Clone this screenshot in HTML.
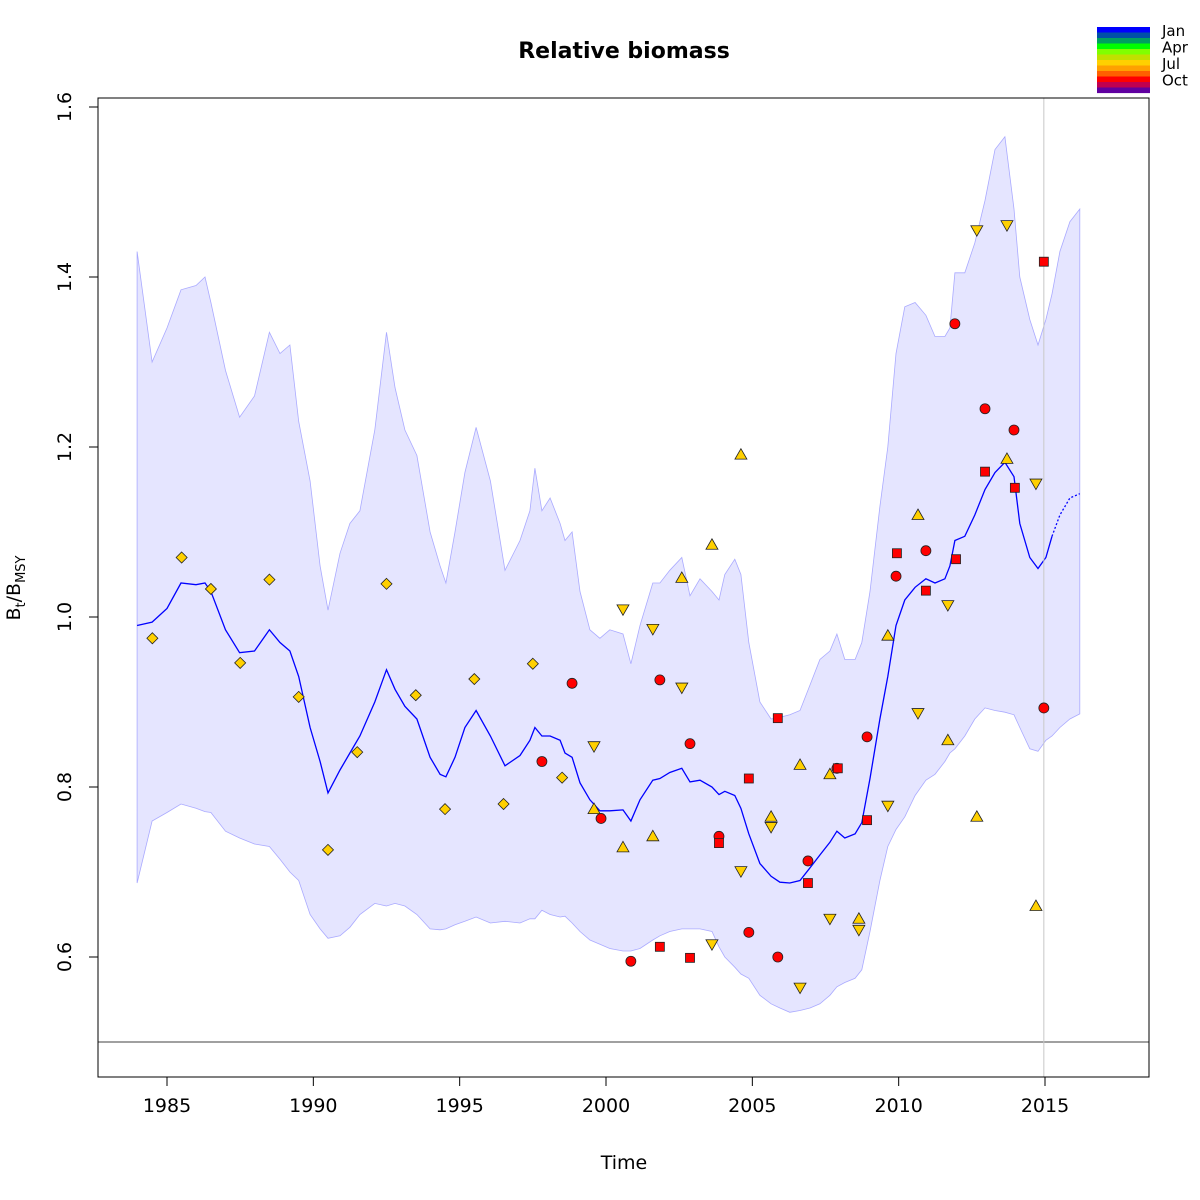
<!DOCTYPE html>
<html><head><meta charset="utf-8"><style>
body{margin:0;background:#fff}
svg{display:block;font-family:"DejaVu Sans","Liberation Sans",sans-serif}
</style></head><body>
<svg id="chart" width="1200" height="1200" viewBox="0 0 1200 1200" xmlns="http://www.w3.org/2000/svg">
<text x="624" y="58" text-anchor="middle" font-size="22" font-weight="bold">Relative biomass</text>
<text x="624" y="1169" text-anchor="middle" font-size="19">Time</text>
<text transform="translate(20,588) rotate(-90)" text-anchor="middle" font-size="19">B<tspan font-size="13" dy="5">t</tspan><tspan dy="-5">/B</tspan><tspan font-size="13" dy="5">MSY</tspan></text>
<g id="legend"></g>
<g id="band"></g><g id="lines"></g><g id="pts"></g><g id="axes"></g>
</svg>
<script>
const times=[1983.98,1984.49,1985.0,1985.48,1985.99,1986.3,1986.5,1987.0,1987.48,1987.99,1988.5,1988.86,1989.2,1989.5,1989.89,1990.23,1990.5,1990.91,1991.25,1991.59,1992.1,1992.5,1992.79,1993.13,1993.54,1993.99,1994.33,1994.53,1994.84,1995.18,1995.56,1996.05,1996.55,1997.06,1997.4,1997.57,1997.81,1998.09,1998.43,1998.6,1998.84,1999.11,1999.45,1999.79,2000.13,2000.58,2000.85,2001.16,2001.6,2001.84,2002.18,2002.59,2002.87,2003.21,2003.62,2003.86,2004.06,2004.4,2004.61,2004.88,2005.26,2005.64,2005.94,2006.28,2006.63,2006.97,2007.31,2007.65,2007.89,2008.16,2008.51,2008.74,2009.02,2009.36,2009.63,2009.91,2010.21,2010.56,2010.93,2011.24,2011.58,2011.75,2011.92,2012.26,2012.6,2012.95,2013.29,2013.63,2013.94,2014.14,2014.48,2014.76,2015.03,2015.24,2015.51,2015.85,2016.19];
const median=[0.99,0.994,1.01,1.04,1.038,1.04,1.03,0.985,0.958,0.96,0.985,0.97,0.96,0.93,0.87,0.83,0.793,0.82,0.84,0.86,0.9,0.938,0.915,0.895,0.88,0.835,0.815,0.812,0.835,0.87,0.89,0.86,0.825,0.837,0.855,0.87,0.86,0.86,0.855,0.84,0.835,0.805,0.785,0.772,0.772,0.773,0.76,0.785,0.808,0.81,0.817,0.822,0.806,0.808,0.8,0.791,0.795,0.79,0.775,0.745,0.71,0.695,0.688,0.687,0.69,0.705,0.72,0.735,0.748,0.74,0.745,0.758,0.81,0.88,0.93,0.99,1.02,1.035,1.045,1.04,1.045,1.06,1.09,1.095,1.12,1.15,1.17,1.182,1.165,1.11,1.07,1.057,1.07,1.095,1.12,1.14,1.145];
const upper=[1.43,1.3,1.34,1.385,1.39,1.4,1.37,1.29,1.235,1.26,1.335,1.31,1.32,1.23,1.16,1.06,1.008,1.075,1.11,1.125,1.22,1.335,1.27,1.22,1.19,1.1,1.06,1.04,1.1,1.17,1.223,1.16,1.055,1.09,1.125,1.175,1.125,1.14,1.11,1.09,1.1,1.03,0.985,0.975,0.985,0.98,0.945,0.99,1.04,1.04,1.055,1.07,1.025,1.045,1.03,1.02,1.05,1.068,1.05,0.97,0.9,0.88,0.882,0.885,0.89,0.92,0.95,0.96,0.98,0.95,0.95,0.97,1.03,1.13,1.2,1.31,1.365,1.37,1.355,1.33,1.33,1.34,1.405,1.405,1.44,1.49,1.55,1.565,1.48,1.4,1.35,1.32,1.35,1.38,1.43,1.465,1.48];
const lower=[0.687,0.76,0.77,0.78,0.775,0.771,0.77,0.748,0.74,0.733,0.73,0.715,0.7,0.69,0.65,0.633,0.622,0.625,0.635,0.65,0.663,0.66,0.663,0.66,0.65,0.633,0.632,0.633,0.638,0.642,0.647,0.64,0.642,0.64,0.645,0.645,0.655,0.65,0.647,0.648,0.64,0.63,0.62,0.615,0.61,0.607,0.607,0.61,0.62,0.625,0.63,0.633,0.633,0.633,0.63,0.612,0.6,0.588,0.58,0.575,0.555,0.545,0.54,0.535,0.537,0.54,0.545,0.555,0.565,0.57,0.575,0.585,0.63,0.69,0.73,0.75,0.765,0.79,0.808,0.815,0.83,0.84,0.845,0.86,0.88,0.893,0.89,0.888,0.885,0.87,0.845,0.842,0.855,0.86,0.87,0.88,0.886];
const lastObsTime=2015.24;
const diamondT=[1984.5,1985.5,1986.5,1987.5,1988.5,1989.5,1990.5,1991.5,1992.5,1993.5,1994.5,1995.5,1996.5,1997.5,1998.5];
const diamondV=[0.975,1.07,1.033,0.946,1.044,0.906,0.726,0.841,1.039,0.908,0.774,0.927,0.78,0.945,0.811];
const circleT=[1997.81,1998.84,1999.83,2000.85,2001.84,2002.87,2003.86,2004.88,2005.87,2006.9,2007.89,2008.92,2009.91,2010.93,2011.92,2012.95,2013.94,2014.96];
const circleV=[0.83,0.922,0.763,0.595,0.926,0.851,0.742,0.629,0.6,0.713,0.822,0.859,1.048,1.078,1.345,1.245,1.22,0.893];
const squareT=[2001.84,2002.87,2003.86,2004.88,2005.87,2006.9,2007.92,2008.92,2009.94,2010.93,2011.96,2012.95,2013.97,2014.96];
const squareV=[0.612,0.599,0.734,0.81,0.881,0.687,0.822,0.761,1.075,1.031,1.068,1.171,1.152,1.418];
const triT=[1999.59,2000.58,2001.6,2002.59,2003.62,2004.61,2005.64,2006.63,2007.65,2008.64,2009.63,2010.66,2011.68,2012.67,2013.7,2014.69];
const triUpV=[0.774,0.729,0.742,1.046,1.085,1.191,0.765,0.826,0.815,0.645,0.978,1.12,0.855,0.765,1.186,0.66];
const triDownV=[0.848,1.009,0.986,0.917,0.615,0.701,0.753,0.564,0.645,0.632,0.778,0.887,1.014,1.455,1.461,1.157];
const xTicks=[1985,1990,1995,2000,2005,2010,2015];
const yTicks=[0.6,0.8,1.0,1.2,1.4,1.6];
const refLevel=0.5, vLineTime=2014.96;
const months=["Jan","Apr","Jul","Oct"];

const NS="http://www.w3.org/2000/svg";
const X=t=>167+(t-1985)*29.267;
const Y=v=>957-(v-0.6)*850;
function mk(tag,parent,attrs){const e=document.createElementNS(NS,tag);for(const k in attrs)e.setAttribute(k,attrs[k]);parent.appendChild(e);return e;}
const band=document.getElementById('band'),lines=document.getElementById('lines'),pts=document.getElementById('pts'),axes=document.getElementById('axes'),legend=document.getElementById('legend');

let d="M"+times.map((t,i)=>X(t).toFixed(1)+","+Y(upper[i]).toFixed(1)).join("L");
for(let i=times.length-1;i>=0;i--)d+="L"+X(times[i]).toFixed(1)+","+Y(lower[i]).toFixed(1);
const bp=mk('path',band,{d:d+"Z",fill:"#e5e5ff",stroke:"#aaaaff","stroke-width":"0.8"});



const solid=[],dotted=[];
times.forEach((t,i)=>{const p=X(t).toFixed(1)+","+Y(median[i]).toFixed(1);if(t<=lastObsTime)solid.push(p);if(t>=lastObsTime)dotted.push(p);});
const ml=mk('polyline',lines,{points:solid.join(" "),fill:"none",stroke:"#0000ff","stroke-width":"1.3"});


const pl=mk('polyline',lines,{points:dotted.join(" "),fill:"none",stroke:"#0000ff","stroke-width":"1.3","stroke-dasharray":"2,2"});


const hl=mk('line',lines,{x1:98,x2:1149,y1:Y(refLevel),y2:Y(refLevel),stroke:"#000","stroke-width":"0.8"});


const vl=mk('line',lines,{x1:X(vLineTime),x2:X(vLineTime),y1:98,y2:1077,stroke:"#c8c8c8","stroke-width":"1"});



const Yel="#ffd000",Red="#ff0000",st={stroke:"#222","stroke-width":"0.8"};
diamondT.forEach((t,i)=>{const x=X(t),y=Y(diamondV[i]);
 const e=mk('polygon',pts,Object.assign({points:`${x},${y-5.5} ${x+5.5},${y} ${x},${y+5.5} ${x-5.5},${y}`,fill:Yel},st));
 
 });
triT.forEach((t,i)=>{const x=X(t);let y=Y(triUpV[i]);
 const a=mk('polygon',pts,Object.assign({points:`${x},${y-6} ${x+6},${y+4.5} ${x-6},${y+4.5}`,fill:Yel},st));
 
 
 y=Y(triDownV[i]);
 const b=mk('polygon',pts,Object.assign({points:`${x-6},${y-4.5} ${x+6},${y-4.5} ${x},${y+6}`,fill:Yel},st));
 
 });
circleT.forEach((t,i)=>{
 const e=mk('circle',pts,Object.assign({cx:X(t),cy:Y(circleV[i]),r:5,fill:Red},st));
 
 });
squareT.forEach((t,i)=>{
 const e=mk('rect',pts,Object.assign({x:X(t)-4.5,y:Y(squareV[i])-4.5,width:9,height:9,fill:Red},st));
 
 });

const frame=mk('rect',axes,{x:98,y:98,width:1051,height:979,fill:"none",stroke:"#000","stroke-width":"1"});


xTicks.forEach(t=>{const x=X(t);
 mk('line',axes,{x1:x,x2:x,y1:1077,y2:1086,stroke:"#000"});
 const tx=mk('text',axes,{x:x,y:1112,"text-anchor":"middle","font-size":"19"});tx.textContent=t;
 
 });
yTicks.forEach(v=>{const y=Y(v);
 mk('line',axes,{x1:89,x2:98,y1:y,y2:y,stroke:"#000"});
 const tx=mk('text',axes,{x:0,y:0,"text-anchor":"middle","font-size":"19",transform:`translate(71,${y}) rotate(-90)`});tx.textContent=v.toFixed(1);
 
 });

const cols=["#0000ff","#0050a8","#00a060","#00ff00","#80ff00","#c0e000","#ffd000","#ffa000","#ff6000","#ff0000","#c00050","#6000a0"];
cols.forEach((c,i)=>mk('rect',legend,{x:1097,y:27+i*5.5,width:53,height:5.6,fill:c}));
months.forEach((m,i)=>{const tx=mk('text',legend,{x:1162,y:36+i*16.5,"font-size":"15"});tx.textContent=m;
 
 });
</script>
</body></html>
